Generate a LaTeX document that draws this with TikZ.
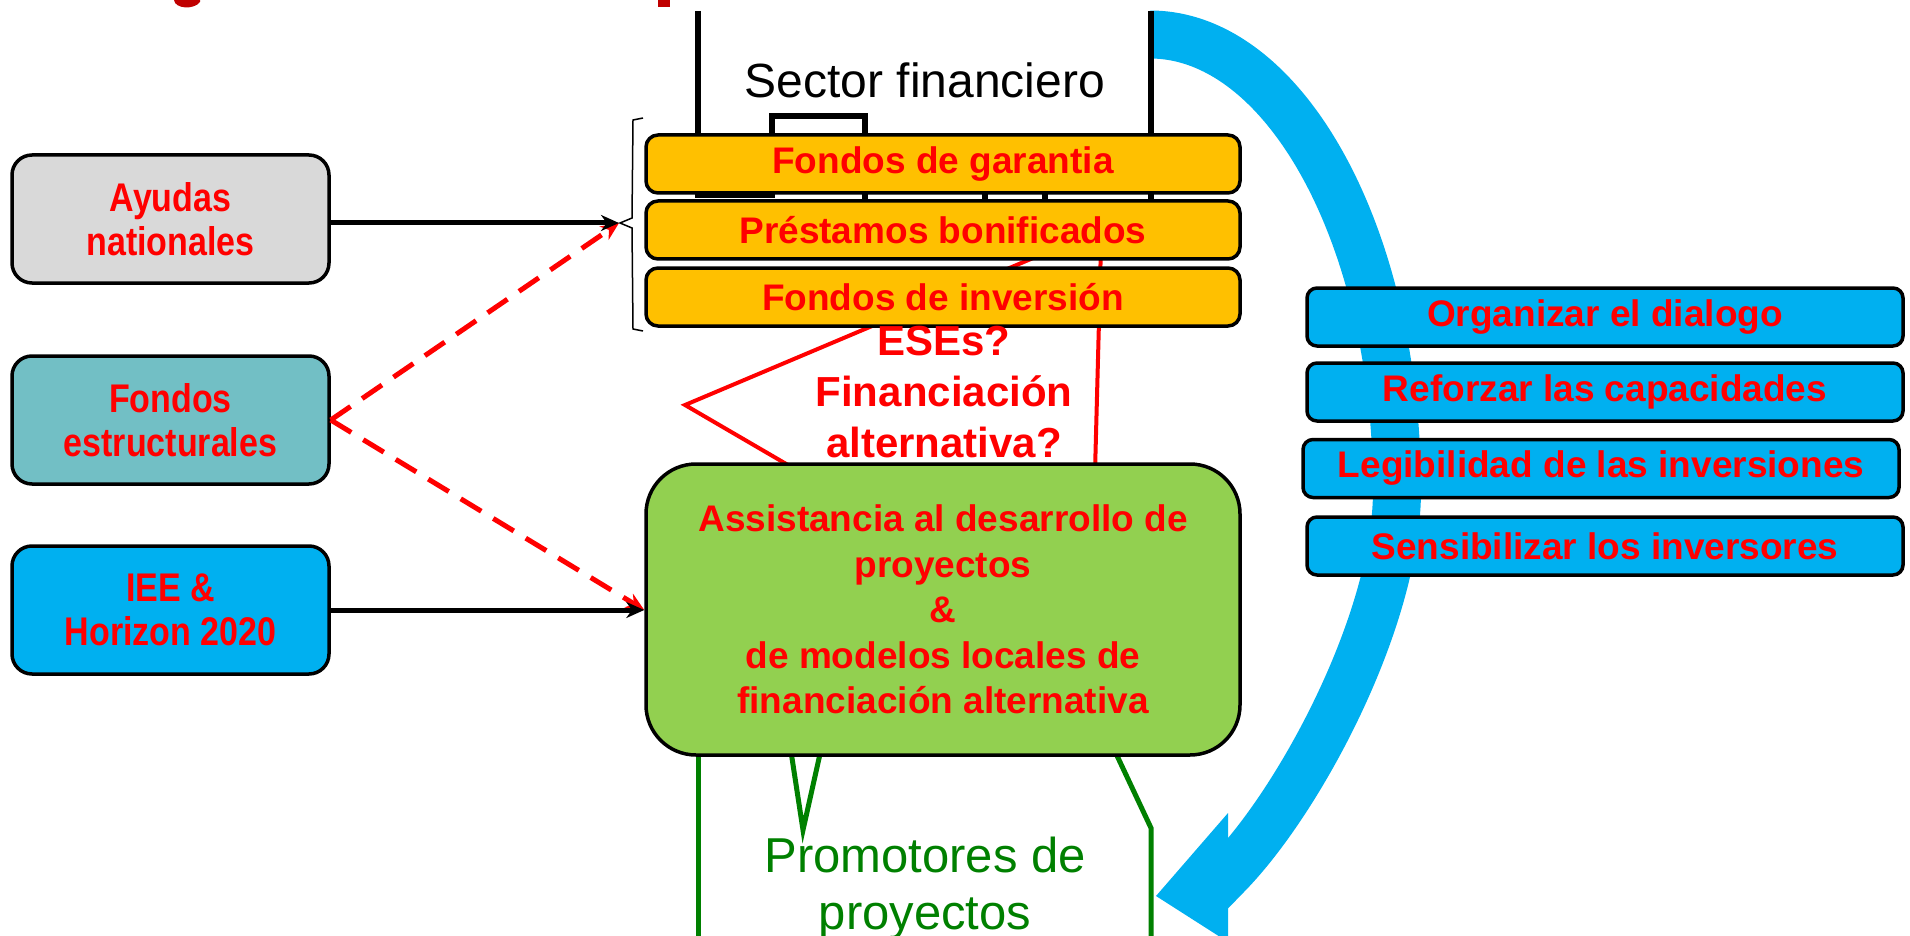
\documentclass[tikz,border=0pt]{standalone}
\usepackage{fontspec}
\setmainfont{Liberation Sans}
\newfontfamily\estrecha[FakeStretch=0.85]{Liberation Sans}
\usetikzlibrary{arrows.meta}

\definecolor{grisclaro}{HTML}{D9D9D9}
\definecolor{turquesa}{HTML}{72BFC5}
\definecolor{azul}{HTML}{00B0F0}
\definecolor{naranja}{HTML}{FFC000}
\definecolor{verdeclaro}{HTML}{92D050}
\definecolor{verdeoscuro}{HTML}{008000}
\definecolor{rojotitulo}{HTML}{C00000}

\begin{document}
\begin{tikzpicture}[x=0.5pt, y=-0.5pt,
        fuente/.style={draw, line width=1.75pt, rounded corners=10pt, minimum width=158.5pt, minimum height=64pt, inner sep=0pt, align=center, text=red, font=\estrecha\bfseries\fontsize{20}{22}\selectfont},
        fondo/.style={draw, line width=1.75pt, rounded corners=6pt, fill=naranja, minimum width=297pt, minimum height=29pt, inner sep=0pt, text=red, font=\bfseries\fontsize{18.5}{22}\selectfont},
        accion/.style={fondo, fill=azul, rounded corners=5pt, minimum width=298pt},
        flecha/.style={line width=2.5pt, -{Stealth[length=9pt, width=8pt]}},
        flechadash/.style={flecha, red, dash pattern=on 12pt off 7pt},
        linea/.style={line width=2.75pt},
        globo/.style={line width=2pt, red},
        globoverde/.style={line width=2.5pt, verdeoscuro}]
        \useasboundingbox (0,0) rectangle (1910,936);

        \fill[rojotitulo] (174,0) .. controls (175,9) and (194,10) .. (200,2) -- (200,0) -- cycle;
        \fill[rojotitulo] (658,0) rectangle (670,7);

        \draw[azul, line width=24pt] (1150,34.5) .. controls (1286,34.5) and (1397,239) .. (1397,490)
            .. controls (1397,620) and (1300,800) .. (1228,874) -- (1195,908);
        \fill[azul] (1228,813) -- (1156,896) -- (1228,942) -- cycle;

        \draw[linea] (698,11) -- (698,195) -- (772,195) -- (772,116) -- (865,116) -- (865,205);
        \draw[linea] (985,185) -- (985,205);
        \draw[linea] (1045,185) -- (1045,205);
        \draw[linea] (1151,11) -- (1151,205);

        \draw[globo] (1045,253) -- (685,405) -- (800,472);
        \draw[globo] (1101,245) -- (1095,472);

        \draw[globoverde] (698,745) -- (698,945);
        \draw[globoverde] (790,745) -- (803,830) -- (822,745);
        \draw[globoverde] (1112,745) -- (1151,828) -- (1151,945);

        \draw[line width=0.75pt] (643,118) -- (633,120) -- (632,218) -- (620,223) -- (632,228) -- (633,329) -- (643,331);

        \node[fuente, fill=grisclaro] (ayudas) at (170.5,219) {Ayudas\\nationales};
        \node[fuente, fill=turquesa] (estructurales) at (170.5,420) {Fondos\\estructurales};
        \node[fuente, fill=azul] (iee) at (170.5,610) {IEE \&\\Horizon 2020};

        \node[fondo] (garantia) at (943,164) {Fondos de garantia};
        \node[fondo] (prestamos) at (943,230) {Préstamos bonificados};
        \node[fondo] (inversion) at (943,297) {Fondos de inversión};

        \node[draw, line width=1.75pt, rounded corners=25pt, fill=verdeclaro, minimum width=297pt, minimum height=145.5pt, inner sep=0pt, align=center, text=red, font=\bfseries\fontsize{18.5}{22.75}\selectfont] (asist) at (943,609.5) {Assistancia al desarrollo de\\proyectos\\\&\\de modelos locales de\\financiación alternativa};

        \node[accion] (dialogo) at (1605,317) {Organizar el dialogo};
        \node[accion] (capacidades) at (1605,392) {Reforzar las capacidades};
        \node[accion] (legibilidad) at (1601,468.5) {Legibilidad de las inversiones};
        \node[accion] (sensibilizar) at (1605,546) {Sensibilizar los inversores};

        \node[inner sep=0pt, font=\fontsize{24}{28}\selectfont] (sector) at (925,80.5) {Sector financiero};
        \node[inner sep=0pt, align=center, text=red, font=\bfseries\fontsize{21}{25.5}\selectfont] (eses) at (944,392.5) {ESEs?\\Financiación\\alternativa?};
        \node[inner sep=0pt, align=center, text=verdeoscuro, font=\fontsize{24.5}{28.5}\selectfont] (promotores) at (925,888) {Promotores de\\proyectos};

        \coordinate (llave) at (619,223);
        \draw[flechadash] (estructurales.east) -- (llave);
        \draw[flechadash] (estructurales.east) -- (asist.west |- iee.east);
        \draw[flecha] (ayudas.east |- llave) -- (llave);
        \draw[flecha] (iee.east) -- (asist.west |- iee.east);
    \end{tikzpicture}
\end{document}
